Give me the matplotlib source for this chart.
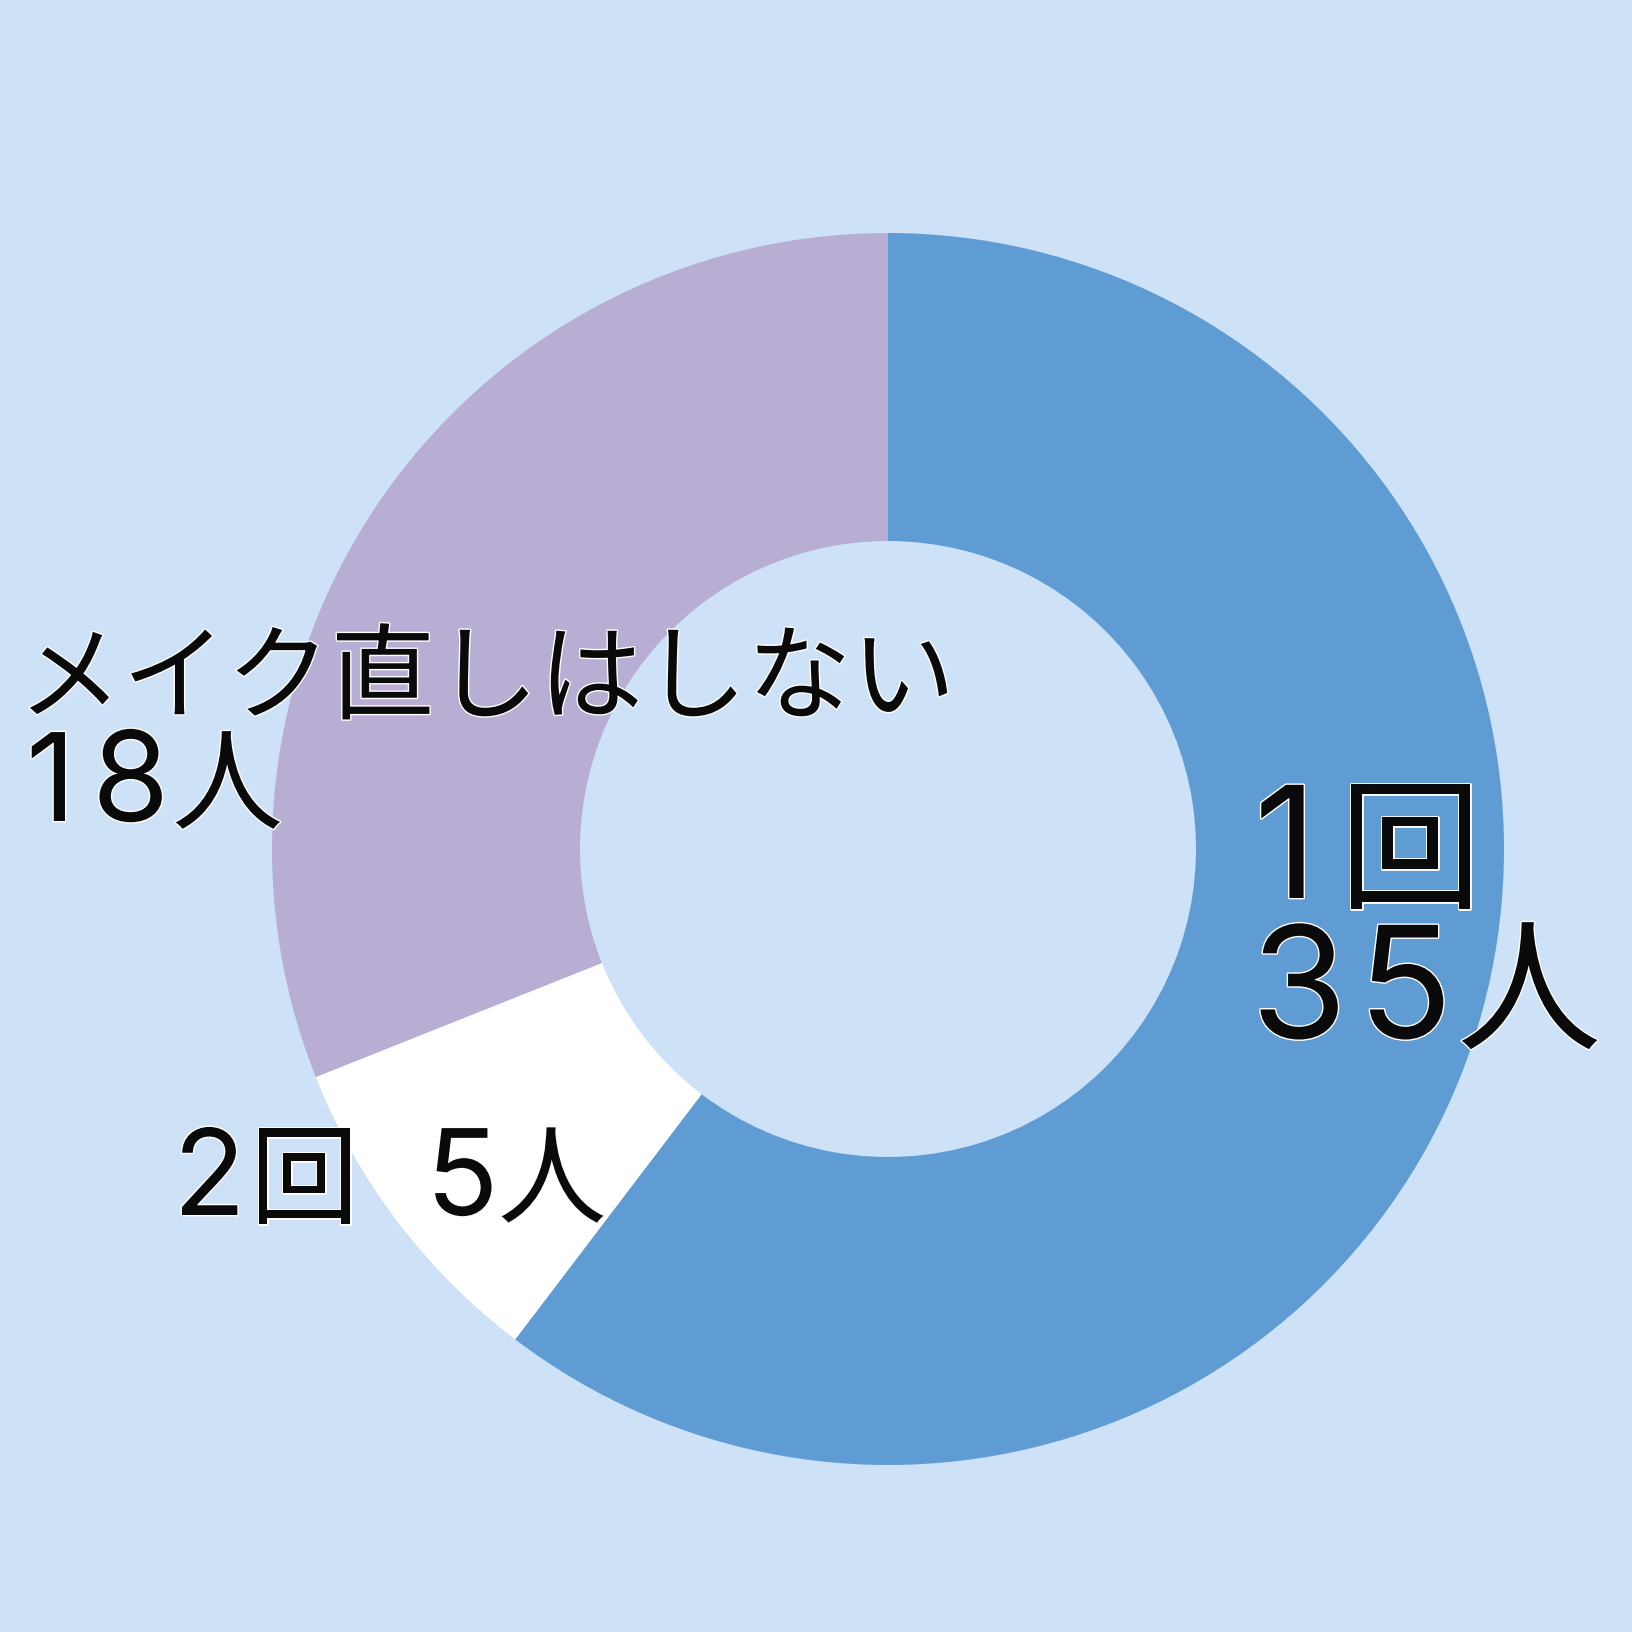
import matplotlib
matplotlib.use('Agg')
import matplotlib.pyplot as plt
import matplotlib.patheffects as pe

plt.rcParams['font.family'] = ['Inter', 'Noto Sans CJK JP', 'DejaVu Sans']

# data
categories = ['1回', '2回', 'メイク直しはしない']
counts = [35, 5, 18]
slice_colors = ['#5f9cd3', '#ffffff', '#b8aed3']
unit = '人'

BG = '#cde1f7'
SIZE = 1633

fig = plt.figure(figsize=(16.33, 16.33), dpi=100, facecolor=BG)
ax = fig.add_axes([0, 0, 1, 1])
ax.set_facecolor(BG)

# donut placement (figure fractions)
cx, cy, R = 888 / SIZE, 1 - 850 / SIZE, 616 / SIZE

ax.pie(counts, colors=slice_colors, startangle=90, counterclock=False,
       radius=1, center=(0, 0), wedgeprops=dict(width=0.5, linewidth=0))
ax.set_xlim(-cx / R, (1 - cx) / R)
ax.set_ylim(-cy / R, (1 - cy) / R)
ax.set_aspect('auto')
ax.axis('off')

stroke = [pe.withStroke(linewidth=2, foreground='white')]

def put(txt, px, py, size):
    # px, py: baseline-left position in image pixels
    ax.text(px / SIZE, 1 - py / SIZE, txt, transform=ax.transAxes,
            ha='left', va='baseline', fontsize=size, color='#0a0a0a',
            path_effects=stroke)

# 1回 / 35人  (digits are spaced a bit wider in the original)
put(categories[0][0], 1254, 899, 112)
put(categories[0][1], 1339, 899, 103)
n = str(counts[0])
put(n[0], 1251, 1039, 112)
put(n[1], 1358, 1039, 112)
put(unit, 1457, 1040, 104)

# 2回 5人
put(categories[1][0], 173, 1216, 86)
put(categories[1][1], 250, 1216, 78)
put(str(counts[1]), 426, 1216, 86)
put(unit, 498, 1216, 78)

# メイク直しはしない / 18人
put(categories[2], 18, 712, 75)
n = str(counts[2])
put(n[0], 26, 822, 88)
put(n[1], 92, 822, 90)
put(unit, 172, 822, 80)

fig.savefig('out.png', dpi=100, facecolor=BG)
